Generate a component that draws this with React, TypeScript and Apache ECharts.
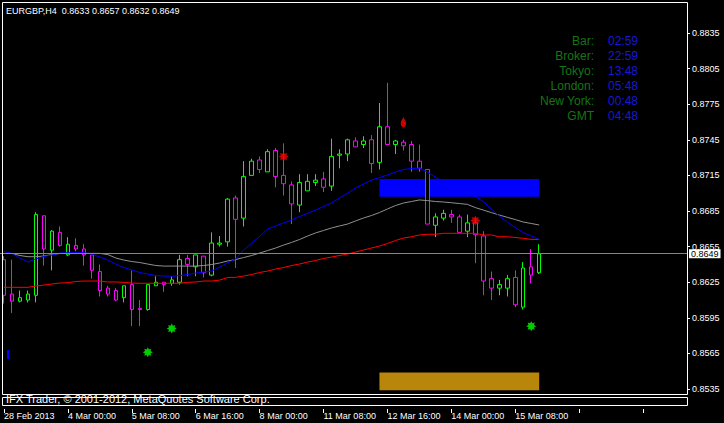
import React, { useEffect, useRef } from "react";
import * as echarts from "echarts";

const titleText = "EURGBP,H4  0.8633 0.8657 0.8632 0.8649";
const copyrightText = "IFX Trader, © 2001-2012, MetaQuotes Software Corp.";

const opens = [0.8644,0.8615,0.8609,0.8610,0.8614,0.8681,0.8652,0.8667,0.8648,0.8656,
 0.8653,0.8648,0.8634,0.8620,0.8618,0.8612,0.8623,0.8603,0.8602,0.8622,
 0.8625,0.8624,0.8625,0.8645,0.8638,0.8647,0.8631,0.8657,0.8659,0.8696,
 0.8679,0.8715,0.8728,0.8718,0.8736,0.8715,0.8707,0.8690,0.8702,0.8709,
 0.8712,0.8706,0.8732,0.8733,0.8744,0.8741,0.8745,0.8726,0.8756,0.8741,
 0.8743,0.8741,0.8727,0.8720,0.8673,0.8679,0.8682,0.8680,0.8668,0.8675,
 0.8664,0.8628,0.8620,0.8620,0.8629,0.8604,0.8638,0.8633];
const highs = [0.8647,0.8644,0.8618,0.8618,0.8684,0.8681,0.8669,0.8672,0.8663,0.8662,
 0.8657,0.8648,0.8640,0.8622,0.8620,0.8622,0.8635,0.8610,0.8623,0.8630,
 0.8625,0.8630,0.8648,0.8648,0.8648,0.8647,0.8667,0.8664,0.8696,0.8698,
 0.8727,0.8729,0.8731,0.8737,0.8738,0.8742,0.8710,0.8716,0.8716,0.8716,
 0.8718,0.8746,0.8737,0.8746,0.8747,0.8748,0.8749,0.8776,0.8793,0.8745,
 0.8745,0.8744,0.8741,0.8720,0.8683,0.8686,0.8686,0.8682,0.8682,0.8679,
 0.8668,0.8634,0.8627,0.8631,0.8635,0.8642,0.8653,0.8657];
const lows = [0.8607,0.8599,0.8608,0.8608,0.8608,0.8639,0.8635,0.8655,0.8647,0.8651,
 0.8639,0.8628,0.8613,0.8613,0.8609,0.8608,0.8588,0.8588,0.8601,0.8622,
 0.8617,0.8622,0.8623,0.8630,0.8630,0.8629,0.8630,0.8655,0.8655,0.8637,
 0.8672,0.8715,0.8717,0.8718,0.8705,0.8698,0.8674,0.8684,0.8702,0.8706,
 0.8701,0.8702,0.8721,0.8727,0.8739,0.8738,0.8717,0.8720,0.8741,0.8733,
 0.8736,0.8718,0.8718,0.8674,0.8663,0.8677,0.8675,0.8667,0.8663,0.8641,
 0.8614,0.8610,0.8614,0.8613,0.8604,0.8602,0.8624,0.8632];
const closes = [0.8614,0.8609,0.8612,0.8615,0.8682,0.8653,0.8668,0.8656,0.8657,0.8653,
 0.8648,0.8635,0.8618,0.8615,0.8610,0.8622,0.8602,0.8602,0.8623,0.8625,
 0.8623,0.8627,0.8644,0.8640,0.8648,0.8633,0.8658,0.8658,0.8695,0.8678,
 0.8714,0.8727,0.8720,0.8735,0.8714,0.8708,0.8691,0.8709,0.8710,0.8711,
 0.8705,0.8731,0.8733,0.8745,0.8739,0.8744,0.8725,0.8756,0.8741,0.8744,
 0.8740,0.8727,0.8721,0.8674,0.8680,0.8683,0.8680,0.8667,0.8675,0.8665,
 0.8626,0.8620,0.8623,0.8628,0.8606,0.8637,0.8631,0.8649];

const maFast = [0.86509,0.86492,0.86454,0.86420,0.86446,0.86467,0.86479,0.86496,0.86499,0.86499,
 0.86499,0.86488,0.86462,0.86437,0.86403,0.86374,0.86353,0.86332,0.86319,0.86306,
 0.86302,0.86300,0.86306,0.86315,0.86327,0.86336,0.86344,0.86378,0.86414,0.86446,
 0.86521,0.86580,0.86635,0.86698,0.86724,0.86749,0.86774,0.86804,0.86831,0.86858,
 0.86888,0.86917,0.86960,0.86999,0.87044,0.87077,0.87111,0.87132,0.87153,0.87179,
 0.87200,0.87208,0.87210,0.87179,0.87136,0.87094,0.87061,0.87027,0.87002,0.86972,
 0.86930,0.86867,0.86808,0.86757,0.86711,0.86669,0.86639,0.86611];
const maMid = [0.86492,0.86492,0.86475,0.86465,0.86465,0.86471,0.86483,0.86492,0.86493,0.86493,
 0.86493,0.86493,0.86493,0.86483,0.86454,0.86437,0.86424,0.86416,0.86403,0.86391,
 0.86386,0.86386,0.86386,0.86386,0.86386,0.86391,0.86399,0.86412,0.86429,0.86441,
 0.86458,0.86475,0.86496,0.86517,0.86538,0.86563,0.86585,0.86610,0.86639,0.86665,
 0.86686,0.86707,0.86724,0.86740,0.86766,0.86791,0.86812,0.86837,0.86867,0.86896,
 0.86917,0.86930,0.86943,0.86938,0.86930,0.86926,0.86920,0.86913,0.86906,0.86879,
 0.86858,0.86837,0.86816,0.86797,0.86778,0.86757,0.86745,0.86732];
const maSlow = [0.86207,0.86207,0.86207,0.86207,0.86218,0.86226,0.86235,0.86243,0.86246,0.86256,
 0.86260,0.86260,0.86260,0.86252,0.86252,0.86249,0.86243,0.86241,0.86241,0.86241,
 0.86241,0.86241,0.86241,0.86249,0.86252,0.86260,0.86260,0.86268,0.86290,0.86291,
 0.86302,0.86315,0.86332,0.86344,0.86361,0.86374,0.86391,0.86403,0.86420,0.86433,
 0.86450,0.86462,0.86475,0.86488,0.86504,0.86521,0.86538,0.86555,0.86576,0.86601,
 0.86622,0.86633,0.86648,0.86654,0.86654,0.86662,0.86662,0.86662,0.86662,0.86662,
 0.86648,0.86648,0.86633,0.86633,0.86627,0.86620,0.86611,0.86611];

const priceTicks = [0.8535,0.8565,0.8595,0.8625,0.8655,0.8685,0.8715,0.8745,0.8775,0.8805,0.8835];
const timeLabels = ["28 Feb 2013","4 Mar 00:00","5 Mar 08:00","6 Mar 16:00","8 Mar 00:00",
 "11 Mar 08:00","12 Mar 16:00","14 Mar 00:00","15 Mar 08:00"];
const barsPerTimeLabel = 8;
const emptyBarsRight = 18;
const priceMin = 0.85304;
const priceMax = 0.88611;
const currentPrice = 0.8649;

const redStars = [[35, 0.8731], [59, 0.8677]];
const greenStars = [[18, 0.8566], [21, 0.8586], [66, 0.8588]];
const redDrops = [[50, 0.8765]];
const blueZoneBars = ["47", "67"];
const blueZonePrices = [0.8697, 0.8712];
const goldZoneBars = ["47", "67"];
const goldZonePrices = [0.8534, 0.8549];

const infoLabels = ["Bar:", "Broker:", "Tokyo:", "London:", "New York:", "GMT"];
const infoTimes = ["02:59", "22:59", "13:48", "05:48", "00:48", "04:48"];

const FONT = '"Liberation Sans", Arial, sans-serif';
const STAR = "path://M20 10L15.54 12.3L17.07 17.07L12.3 15.54L10 20L7.7 15.54L2.93 17.07L4.46 12.3L0 10L4.46 7.7L2.93 2.93L7.7 4.46L10 0L12.3 4.46L17.07 2.93L15.54 7.7Z";

export default function App() {
  const ref = useRef<HTMLDivElement>(null);
  useEffect(() => {
    const chart = echarts.init(ref.current!, null, { renderer: "svg" });
    const nBars = opens.length + emptyBarsRight;
    const categories = Array.from({ length: nBars }, (_, i) => String(i));
    const candles = opens.map((o, i) => [o, closes[i], lows[i], highs[i]]);

    const graphic: any[] = [
      { type: "rect", z: 100, silent: true, shape: { x: 2.5, y: 2.5, width: 685, height: 392 },
        style: { fill: "none", stroke: "#fff", lineWidth: 1 } },
      { type: "rect", z: 100, silent: true, shape: { x: 2.5, y: 397.5, width: 685, height: 8 },
        style: { fill: "none", stroke: "#fff", lineWidth: 1 } },
      { type: "rect", z: 100, silent: true, shape: { x: 7, y: 350, width: 2, height: 9 },
        style: { fill: "#0000ff" } },
      { type: "text", z: 101, x: 6, y: 11, style: { text: titleText, fill: "#fff",
        font: "9px " + FONT, textAlign: "left", textVerticalAlign: "middle" } },
      { type: "text", z: 101, x: 6, y: 399, style: { text: copyrightText, fill: "#fff",
        font: "11px " + FONT, textAlign: "left", textVerticalAlign: "middle" } },
    ];
    infoLabels.forEach((t, i) => {
      graphic.push({ type: "text", z: 101, x: 594, y: 41 + i * 15, style: { text: t, fill: "#157515",
        font: "12px " + FONT, textAlign: "right", textVerticalAlign: "middle" } });
      graphic.push({ type: "text", z: 101, x: 608, y: 41 + i * 15, style: { text: infoTimes[i], fill: "#1818d8",
        font: "12px " + FONT, textAlign: "left", textVerticalAlign: "middle" } });
    });

    chart.setOption({
      animation: false,
      backgroundColor: "#000",
      textStyle: { fontFamily: FONT },
      grid: [
        { left: -1, right: 37, top: 2, bottom: 28.5 },
        { left: -1, right: 37, top: 397, bottom: 14 },
      ],
      xAxis: [
        { type: "category", gridIndex: 0, data: categories, boundaryGap: true, show: false },
        { type: "category", gridIndex: 1, data: categories, boundaryGap: true,
          axisLine: { show: false },
          axisTick: { show: true, alignWithLabel: true, interval: barsPerTimeLabel - 1, length: 4,
            lineStyle: { color: "#fff" } },
          axisLabel: { interval: barsPerTimeLabel - 1, color: "#fff", fontSize: 9, fontFamily: FONT,
            align: "left", margin: 1, lineHeight: 11,
            formatter: (_v: string, idx: number) => {
              const j = idx / barsPerTimeLabel;
              return Number.isInteger(j) && timeLabels[j] ? timeLabels[j] : "";
            } } },
      ],
      yAxis: [
        { type: "value", gridIndex: 0, position: "right", min: priceMin, max: priceMax,
          splitLine: { show: false }, axisLine: { show: false },
          axisTick: { show: true, customValues: priceTicks, length: 3, lineStyle: { color: "#fff" } },
          axisLabel: { customValues: priceTicks, color: "#fff", fontSize: 9, fontFamily: FONT, margin: 5,
            formatter: (v: number) => v.toFixed(4) } },
        { type: "value", gridIndex: 1, show: false, min: 0, max: 1 },
      ],
      graphic,
      series: [
        {
          type: "candlestick", xAxisIndex: 0, yAxisIndex: 0, data: candles, barWidth: 4, z: 3,
          itemStyle: { color: "#000", color0: "#000", borderColor: "#00ff00", borderColor0: "#ff00ff", borderWidth: 1 },
          markArea: {
            silent: true,
            data: [
              [{ xAxis: blueZoneBars[0], yAxis: blueZonePrices[1], itemStyle: { color: "#0000ff", opacity: 1 } },
               { xAxis: blueZoneBars[1], yAxis: blueZonePrices[0] }],
              [{ xAxis: goldZoneBars[0], yAxis: goldZonePrices[1], itemStyle: { color: "#b8860b", opacity: 1 } },
               { xAxis: goldZoneBars[1], yAxis: goldZonePrices[0] }],
            ],
          },
        },
        { type: "line", data: maSlow, showSymbol: false, z: 4, lineStyle: { color: "#ff0000", width: 1 },
          markLine: {
            silent: true, symbol: "none", animation: false, precision: 4, z: 10,
            lineStyle: { color: "#778899", type: "solid", width: 1 },
            label: { show: true, position: "end", distance: 2, color: "#000", backgroundColor: "#fff",
              fontSize: 9, fontFamily: FONT, lineHeight: 9, padding: [0, 2, 0, 2],
              formatter: (p: any) => Number(p.value).toFixed(4) },
            data: [{ yAxis: currentPrice }],
          } },
        { type: "line", data: maMid, showSymbol: false, z: 4, lineStyle: { color: "#909090", width: 1 } },
        { type: "line", data: maFast, showSymbol: false, z: 4, lineStyle: { color: "#0000ff", width: 1 } },
        { type: "scatter", data: redStars, symbol: STAR, symbolSize: 10, z: 6, itemStyle: { color: "#ff0000" } },
        { type: "scatter", data: greenStars, symbol: STAR, symbolSize: 10, z: 6, itemStyle: { color: "#00ff00" } },
        { type: "scatter", data: redDrops, symbol: "pin", symbolRotate: 180, symbolSize: [9, 13], z: 6,
          itemStyle: { color: "#ff0000" } },
      ],
    });
    return () => chart.dispose();
  }, []);
  return <div ref={ref} style={{ position: "fixed", left: 0, top: 0, width: 724, height: 423, background: "#000" }} />;
}
